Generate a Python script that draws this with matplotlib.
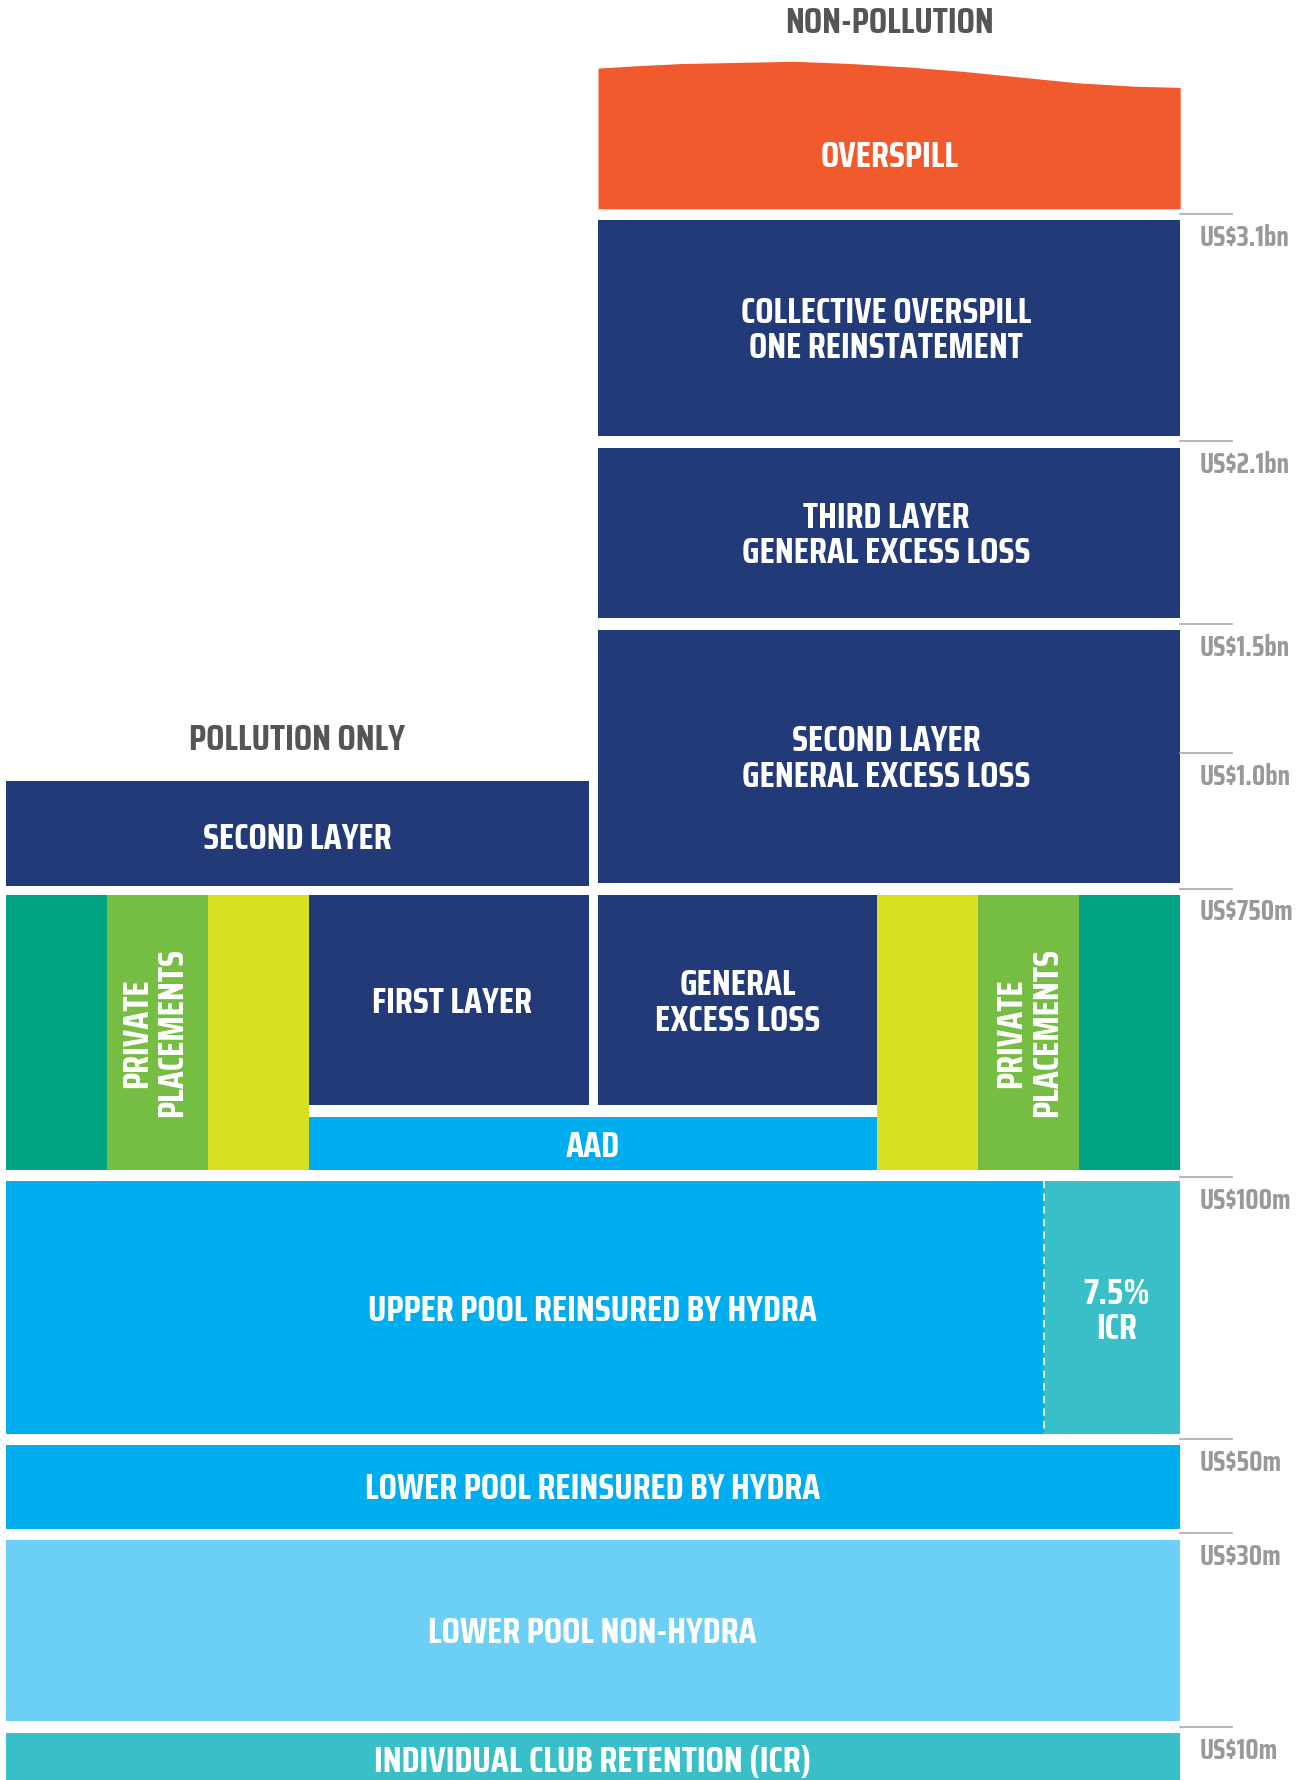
import matplotlib.pyplot as plt
import numpy as np
from matplotlib import font_manager

# canvas units follow the layout of the reference (x right, y down)
W, H = 1150, 1568.6

NAVY = '#233a79'
ORANGE = '#f15a2c'
DKGREEN = '#00a482'
LTGREEN = '#76bd43'
YELLOW = '#d8e021'
CYAN = '#00aeef'
LTCYAN = '#6ccff6'
TEAL = '#38bfc7'

# main layers
layer_labels = ['COLLECTIVE OVERSPILL\nONE REINSTATEMENT', 'THIRD LAYER\nGENERAL EXCESS LOSS',
                'SECOND LAYER\nGENERAL EXCESS LOSS', 'SECOND LAYER', 'FIRST LAYER',
                'GENERAL\nEXCESS LOSS', 'AAD', 'UPPER POOL REINSURED BY HYDRA', '7.5%\nICR',
                'LOWER POOL REINSURED BY HYDRA', 'LOWER POOL NON-HYDRA',
                'INDIVIDUAL CLUB RETENTION (ICR)']
layer_left = [527, 527, 527, 5, 272, 527, 272, 5, 920, 5, 5, 5]
layer_right = [1040, 1040, 1040, 519, 519, 773, 773, 920, 1040, 1040, 1040, 1040]
layer_top = [194, 395, 555, 688, 789, 789, 984, 1041, 1041, 1273, 1357, 1527]
layer_bottom = [384, 545, 778, 781, 974, 974, 1031, 1264, 1264, 1347, 1517, 1580]
layer_colors = [NAVY, NAVY, NAVY, NAVY, NAVY, NAVY, CYAN, CYAN, TEAL, CYAN, LTCYAN, TEAL]
label_x = [781, 781, 781, 262, 398, 650, 522, 522, 984, 522, 522, 522]
label_y = [291, 472, 669, 739, 884, 884, 1011, 1155, 1156, 1312, 1439, 1553]

# private placement strips
strip_left = [5, 94, 183, 773, 862, 951]
strip_right = [94, 183, 272, 862, 951, 1040]
strip_colors = [DKGREEN, LTGREEN, YELLOW, YELLOW, LTGREEN, DKGREEN]
strip_top, strip_bottom = 789, 1031
pp_x = [136, 907]

# overspill wave (top edge)
wave_x = [527, 560, 600, 650, 700, 750, 800, 850, 900, 950, 1000, 1040]
wave_y = [60, 58, 56, 55, 54, 56, 59, 63, 68, 73, 76, 77]
overspill_bottom = 184

# limit markers
tick_y = [189, 389, 550, 664, 783, 1037, 1268, 1351, 1522]
tick_labels = ['US$3.1bn', 'US$2.1bn', 'US$1.5bn', 'US$1.0bn', 'US$750m',
               'US$100m', 'US$50m', 'US$30m', 'US$10m']

installed = {f.name for f in font_manager.fontManager.ttflist}
main_font = next(f for f in ['Saira Condensed', 'Saira SemiCondensed', 'Saira ExtraCondensed', 'DejaVu Sans']
                 if f in installed)
plt.rcParams['font.family'] = [main_font, 'DejaVu Sans']

fig = plt.figure(figsize=(13.05, 17.80), dpi=100)
ax = fig.add_axes([0, 0, 1, 1])
ax.set_xlim(0, W)
ax.set_ylim(H, 0)
ax.axis('off')

txt = dict(color='white', fontweight='bold', ha='center', va='center', linespacing=1.05)

# overspill
ax.fill_between(wave_x, wave_y, overspill_bottom, color=ORANGE, lw=0)
ax.text(784, 138, 'OVERSPILL', fontsize=26, **txt)

# private placements strips
for l, r, c in zip(strip_left, strip_right, strip_colors):
    ax.bar(l, strip_bottom - strip_top, width=r - l, bottom=strip_top, align='edge', color=c, lw=0)
for x in pp_x:
    ax.text(x, 910, 'PRIVATE\nPLACEMENTS', fontsize=26, rotation=90, **txt)

# layers
for lab, l, r, t, b, c, lx, ly in zip(layer_labels, layer_left, layer_right, layer_top,
                                       layer_bottom, layer_colors, label_x, label_y):
    ax.bar(l, b - t, width=r - l, bottom=t, align='edge', color=c, lw=0)
    ax.text(lx, ly, lab, fontsize=26, **txt)

# dashed split in upper pool
ax.plot([920, 920], [1041, 1264], color='white', lw=1.3, ls=(0, (4, 3)))

# markers on the right
for y, lab in zip(tick_y, tick_labels):
    ax.plot([1040, 1086], [y, y], color='#aaaaaa', lw=1.2)
    ax.text(1057, y + 21, lab, color='#999999', fontsize=20, fontweight='bold',
            ha='left', va='center')

# titles
ax.text(784, 20, 'NON-POLLUTION', color='#555555', fontsize=26, fontweight='bold',
        ha='center', va='center')
ax.text(262, 652, 'POLLUTION ONLY', color='#555555', fontsize=26, fontweight='bold',
        ha='center', va='center')

fig.savefig('out.png', dpi=100)
